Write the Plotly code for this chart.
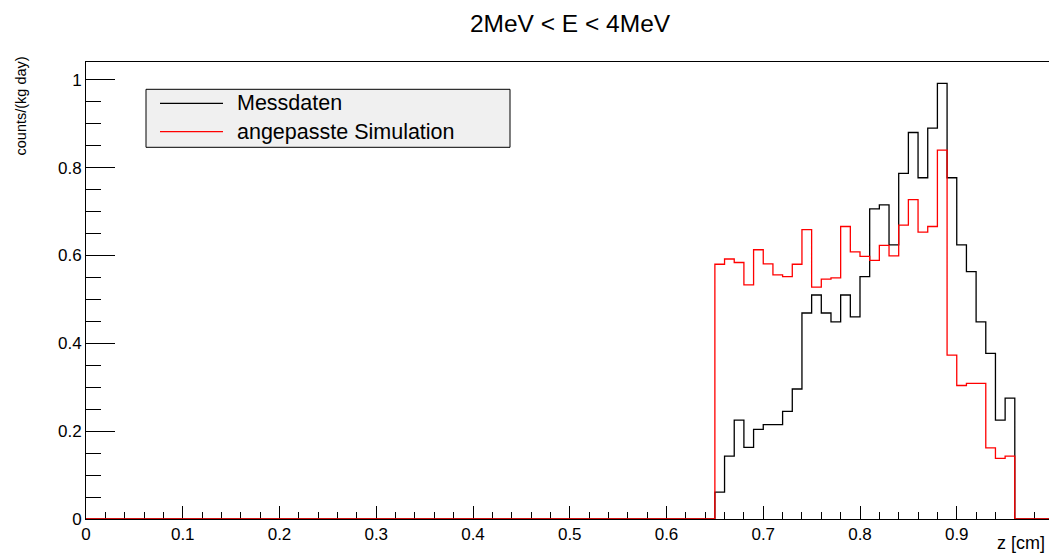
import numpy as np
import plotly.graph_objects as go

# ---- data (histogram, 100 bins of 0.01 from 0 to 1) ----
n_bins = 100
x_min, x_max_hist = 0.0, 1.0
first_filled_bin = 65  # bin starting at z = 0.65
messdaten = [0.061, 0.143, 0.225, 0.163, 0.204, 0.215, 0.215, 0.245, 0.296, 0.469,
             0.510, 0.469, 0.449, 0.510, 0.460, 0.552, 0.706, 0.715, 0.624, 0.787,
             0.880, 0.777, 0.890, 0.992, 0.777, 0.624, 0.563, 0.449, 0.377, 0.225,
             0.275]
simulation = [0.580, 0.592, 0.584, 0.533, 0.613, 0.581, 0.556, 0.552, 0.580, 0.659,
              0.528, 0.546, 0.549, 0.666, 0.608, 0.598, 0.589, 0.623, 0.599, 0.669,
              0.727, 0.653, 0.666, 0.840, 0.373, 0.304, 0.309, 0.309, 0.162, 0.138,
              0.143]
series_names = ["Messdaten", "angepasste Simulation"]
series_colors = ["#000000", "#ff0000"]
title_text = "2MeV < E < 4MeV"
x_title = "z [cm]"
y_title = "counts/(kg day)"

edges = np.linspace(x_min, x_max_hist, n_bins + 1)


def full_hist(vals):
    h = np.zeros(n_bins)
    h[first_filled_bin:first_filled_bin + len(vals)] = vals
    return list(h) + [h[-1]]


FONT = "Liberation Sans, Arial, Helvetica, sans-serif"
W, H = 1049, 557
L, R, T, B = 86, 0, 62, 38
pw, ph = W - L - R, H - T - B


def px(xp):
    return (xp - L) / pw


def py(yp):
    return (H - B - yp) / ph


fig = go.Figure()
for vals, name, col in zip([messdaten, simulation], series_names, series_colors):
    fig.add_trace(go.Scatter(x=edges, y=full_hist(vals), mode="lines",
                             line=dict(color=col, width=1.3, shape="hv"),
                             name=name, showlegend=False, cliponaxis=False))

# manual ROOT-style legend box
shapes = [dict(type="rect", xref="paper", yref="paper",
               x0=px(146), x1=px(510), y0=py(147.3), y1=py(89.3),
               fillcolor="#f0f0f0", line=dict(color="black", width=1), layer="above")]
annotations = []
for i, (name, col) in enumerate(zip(series_names, series_colors)):
    yc = 103.3 + i * 28.4
    shapes.append(dict(type="line", xref="paper", yref="paper",
                       x0=px(160), x1=px(223), y0=py(yc), y1=py(yc),
                       line=dict(color=col, width=1.3), layer="above"))
    annotations.append(dict(text=name, xref="paper", yref="paper", x=px(235), y=py(yc),
                            xanchor="left", yanchor="middle", showarrow=False,
                            font=dict(family=FONT, size=21.5, color="black")))

annotations.append(dict(text=x_title, xref="paper", yref="paper", x=px(1047), y=py(531),
                        xanchor="right", yanchor="top", showarrow=False,
                        font=dict(family=FONT, size=18, color="black")))
annotations.append(dict(text=y_title, xref="paper", yref="paper", x=px(20), y=py(55),
                        xanchor="center", yanchor="top", showarrow=False, textangle=-90,
                        font=dict(family=FONT, size=14.5, color="black")))

fig.update_layout(
    width=W, height=H,
    margin=dict(l=L, r=R, t=T, b=B, pad=0),
    paper_bgcolor="white", plot_bgcolor="white",
    font=dict(family=FONT, color="black"),
    title=dict(text=title_text, x=570 / W, xanchor="center", y=1 - 23 / H, yanchor="middle",
               xref="container", yref="container",
               font=dict(family=FONT, size=24.5, color="black")),
    shapes=shapes, annotations=annotations,
    showlegend=False,
)
fig.update_xaxes(range=[0, (W - L - R) / 967.5], showgrid=False, zeroline=False,
                 showline=True, linecolor="black", linewidth=1, mirror=True,
                 ticks="inside", ticklen=13, tickwidth=1, tickcolor="black",
                 dtick=0.1, tick0=0, tickformat="~g",
                 minor=dict(ticks="inside", ticklen=7, dtick=0.02, tickcolor="black", tickwidth=1),
                 tickfont=dict(family=FONT, size=17, color="black"), layer="below traces")
fig.update_yaxes(range=[0, 1.0405], showgrid=False, zeroline=False,
                 showline=True, linecolor="black", linewidth=1, mirror=False,
                 ticks="inside", ticklen=29, tickwidth=1, tickcolor="black",
                 dtick=0.2, tick0=0, tickformat="~g",
                 minor=dict(ticks="inside", ticklen=15, dtick=0.05, tickcolor="black", tickwidth=1),
                 tickfont=dict(family=FONT, size=17, color="black"), layer="below traces")

fig.write_html("out.html")
